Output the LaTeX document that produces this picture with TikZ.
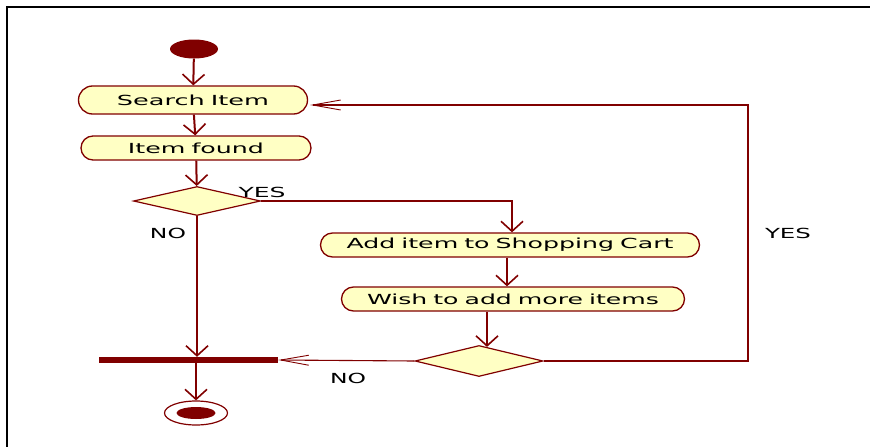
\documentclass[tikz,border=0pt]{standalone}
\usepackage{fontspec}
\setsansfont{DejaVu Sans}[WordSpace=0.75]
\usetikzlibrary{arrows.meta,positioning,shapes.geometric,calc}
\definecolor{UmlRed}{HTML}{800000}
\definecolor{UmlFill}{HTML}{FFFFC4}
\newcommand{\umltext}[2]{\resizebox{#1pt}{\height}{#2}}

\begin{document}
\begin{tikzpicture}[x=1pt,y=-1pt,font=\sffamily\fontsize{13.9pt}{16pt}\selectfont,
  activity/.style={draw=UmlRed,line width=1.3pt,fill=UmlFill,rounded corners=12pt,minimum height=24pt,inner sep=0pt},
  decision/.style={diamond,draw=UmlRed,line width=1.2pt,fill=UmlFill,inner sep=0pt},
  flow/.style={UmlRed,line width=2pt,-{Straight Barb[length=10pt,width=22pt,line width=1.6pt]}},
  guard/.style={UmlRed,line width=1.1pt,-{Straight Barb[length=28pt,width=10pt,line width=0.9pt]}}]
  \useasboundingbox (0,0) rectangle (870,447);
  \draw[line width=2.2pt] (7,447) -- (7,7) -- (870,7);
  % noeuds
  \node[ellipse,fill=UmlRed,minimum width=48pt,minimum height=19pt,inner sep=0pt] (start) at (194,49) {};
  \node[activity,minimum width=229pt,minimum height=28pt,rounded corners=14pt] (search) at (193,100) {\umltext{152}{Search Item}};
  \node[activity,minimum width=230pt] (found) at (196,148) {\umltext{136}{Item found}};
  \node[decision,minimum width=127pt,minimum height=29pt] (dec1) at (197,201) {};
  \node[activity,minimum width=379pt] (add) at (510,245) {\umltext{327}{Add item to Shopping Cart}};
  \node[activity,minimum width=343pt] (wish) at (513,299) {\umltext{292}{Wish to add more items}};
  \node[decision,minimum width=128pt,minimum height=31pt] (dec2) at (479,361) {};
  \node[fill=UmlRed,minimum width=179pt,minimum height=6pt,inner sep=0pt] (bar) at (188.5,360) {};
  \node[ellipse,draw=UmlRed,line width=1.2pt,fill=white,minimum width=63pt,minimum height=24pt,inner sep=0pt] (final) at (196,413) {};
  \node[ellipse,fill=UmlRed,minimum width=39pt,minimum height=12pt,inner sep=0pt] at (final) {};
  \coordinate (loop) at (748,105);
  % fleches
  \draw[flow] (start) -- (search);
  \draw[flow] (search) -- (found);
  \draw[flow] (found) -- (dec1);
  \draw[guard,-{Straight Barb[length=10pt,width=22pt,line width=1.6pt]}] (dec1.east) -| ([xshift=2pt]add.north);
  \draw[flow] ([xshift=-3pt]add.south) -- ([xshift=-3pt]add.south |- wish.north);
  \draw[flow] ([xshift=8pt]dec2.north |- wish.south) -- ([xshift=8pt,yshift=-2pt]dec2.north);
  \draw[flow] (dec1.south) -- (dec1.south |- bar.north);
  \draw[flow] (bar.south -| final.north) -- (final.north);
  \draw[guard] (dec2.east) -| (loop) -- ([xshift=2pt]loop -| search.east);
  \draw[guard] (dec2.west) -- (bar.east);
  % gardes
  \node (yes1) at (262,192) {\umltext{47}{YES}};
  \node (no1) at (168,233) {\umltext{36}{NO}};
  \node (yes2) at (788,233) {\umltext{46}{YES}};
  \node (no2) at (348,378) {\umltext{36}{NO}};
\end{tikzpicture}
\end{document}
